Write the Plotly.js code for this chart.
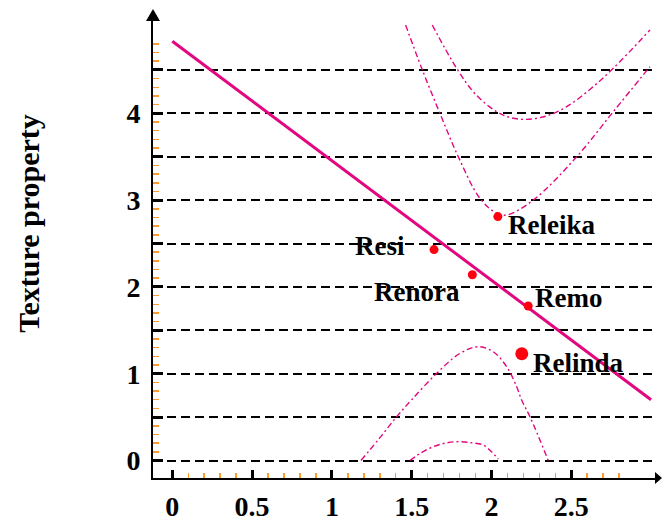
<!DOCTYPE html>
<html>
<head>
<meta charset="utf-8">
<script src="https://cdn.plot.ly/plotly-3.0.1.min.js"></script>
<style>html,body{margin:0;padding:0;background:#fff;}#chart{width:662px;height:526px;}</style>
</head>
<body>
<div id="chart"></div>
<script>
// ---- data ----
const varieties = ["Releika", "Resi", "Renora", "Remo", "Relinda"];
const varX = [2.04, 1.64, 1.88, 2.23, 2.19];
const varY = [2.81, 2.43, 2.14, 1.78, 1.23];

const fitX = [0, 3.0];
const fitY = [4.83, 0.70];

// upper inner band
const upInX = [1.462, 1.563, 1.677, 1.792, 1.928, 2.033, 2.095, 2.262, 2.534, 2.763, 2.993];
const upInY = [5.017, 4.518, 4.0, 3.50, 3.02, 2.848, 2.828, 3.0, 3.5, 4.018, 4.537];
// upper outer band
const upOutX = [1.629, 1.782, 1.90, 2.033, 2.12, 2.22, 2.346, 2.471, 2.62, 2.763, 2.993];
const upOutY = [5.017, 4.518, 4.22, 4.018, 3.95, 3.93, 3.97, 4.076, 4.28, 4.518, 4.96];
// lower outer band
const lowOutX = [1.182, 1.30, 1.406, 1.50, 1.657, 1.803, 1.917, 2.011, 2.095, 2.158, 2.189, 2.241, 2.356];
const lowOutY = [0.0, 0.26, 0.505, 0.70, 1.005, 1.235, 1.311, 1.253, 1.081, 0.85, 0.697, 0.505, 0.0];
// lower inner band
const lowInX = [1.489, 1.56, 1.635, 1.71, 1.792, 1.87, 1.949, 2.00, 2.043];
const lowInY = [0.0, 0.09, 0.159, 0.20, 0.217, 0.205, 0.179, 0.10, 0.017];

const xTickVals = [0, 0.5, 1, 1.5, 2, 2.5];
const xTickText = ["0", "0.5", "1", "1.5", "2", "2.5"];
const yTickVals = [0, 0.5, 1, 1.5, 2, 2.5, 3, 3.5, 4, 4.5];
const yTickText = ["0", "", "1", "", "2", "", "3", "", "4", ""];
const yTitle = "Texture property";

// ---- styles ----
const pink = "#E2077F";
const serif = "Liberation Serif, Times New Roman, serif";

function minorVals(maxV, majors) {
  const out = [];
  for (let i = 1; i <= Math.round(maxV * 10); i++) {
    const v = i / 10;
    if (!majors.some(m => Math.abs(m - v) < 1e-9)) out.push(v);
  }
  return out;
}

const bandLine = {color: pink, width: 1.4, dash: "6px,3px,2px,3px", shape: "spline"};
const traces = [
  {x: fitX, y: fitY, mode: "lines", line: {color: pink, width: 3}},
  {x: upInX, y: upInY, mode: "lines", line: bandLine},
  {x: upOutX, y: upOutY, mode: "lines", line: bandLine},
  {x: lowOutX, y: lowOutY, mode: "lines", line: bandLine},
  {x: lowInX, y: lowInY, mode: "lines", line: bandLine},
  {x: varX, y: varY, mode: "markers", text: varieties,
   marker: {color: "#FF0010", opacity: 1, size: [9, 9, 9, 9, 13], line: {width: 0}}}
];

const labelStyle = [
  {xanchor: "left", xshift: 8, yshift: -8},
  {xanchor: "right", xshift: -27, yshift: 4},
  {xanchor: "right", xshift: -10, yshift: -17},
  {xanchor: "left", xshift: 5, yshift: 8},
  {xanchor: "left", xshift: 9, yshift: -9}
];
const annotations = varieties.map((n, i) => Object.assign({
  x: varX[i], y: varY[i], xref: "x", yref: "y", text: n, showarrow: false,
  yanchor: "middle", font: {family: serif, size: 27, color: "#000", weight: "bold"}
}, labelStyle[i]));
annotations.push({
  xref: "paper", yref: "paper", x: -0.2465, y: 0.555, text: yTitle, textangle: -90,
  showarrow: false, xanchor: "center", yanchor: "middle",
  font: {family: serif, size: 30, color: "#000", weight: "bold"}
});

const layout = {
  width: 662, height: 526,
  margin: {l: 153, r: 6, t: 20, b: 48},
  paper_bgcolor: "#fff", plot_bgcolor: "#fff",
  showlegend: false,
  xaxis: {
    range: [-0.121, 3.031], showgrid: false, zeroline: false,
    showline: true, linecolor: "#000", linewidth: 2,
    tickmode: "array", tickvals: xTickVals, ticktext: xTickText,
    ticks: "inside", ticklen: 8, tickwidth: 3, tickcolor: "#000",
    ticklabelstandoff: 2,
    tickfont: {family: serif, size: 28, color: "#000", weight: "bold"},
    minor: {ticks: "inside", ticklen: 5, tickwidth: 1.5, tickcolor: "#FF9A2E",
            tickmode: "array", tickvals: minorVals(2.8, xTickVals), showgrid: false}
  },
  yaxis: {
    range: [-0.2016, 5.075], zeroline: false,
    showgrid: true, gridcolor: "#000", gridwidth: 2, griddash: "9px,5px",
    showline: true, linecolor: "#000", linewidth: 2,
    tickmode: "array", tickvals: yTickVals, ticktext: yTickText,
    ticks: "inside", ticklen: 10, tickwidth: 3, tickcolor: "#000",
    ticklabelstandoff: 5,
    tickfont: {family: serif, size: 28, color: "#000", weight: "bold"},
    minor: {ticks: "inside", ticklen: 6, tickwidth: 1.5, tickcolor: "#FF9A2E",
            tickmode: "array", tickvals: minorVals(4.8, yTickVals), showgrid: false}
  },
  annotations: annotations,
  shapes: [
    {type: "path", xref: "paper", yref: "paper", layer: "above",
     path: "M -0.0139 0.998 L 0 1.024 L 0.0139 0.998 Z", fillcolor: "#000", line: {width: 0}},
    {type: "path", xref: "paper", yref: "paper", layer: "above",
     path: "M 0.998 0.0131 L 1.012 0 L 0.998 -0.0131 Z", fillcolor: "#000", line: {width: 0}}
  ]
};

Plotly.newPlot("chart", traces, layout, {staticPlot: true, displayModeBar: false});
</script>
</body>
</html>
